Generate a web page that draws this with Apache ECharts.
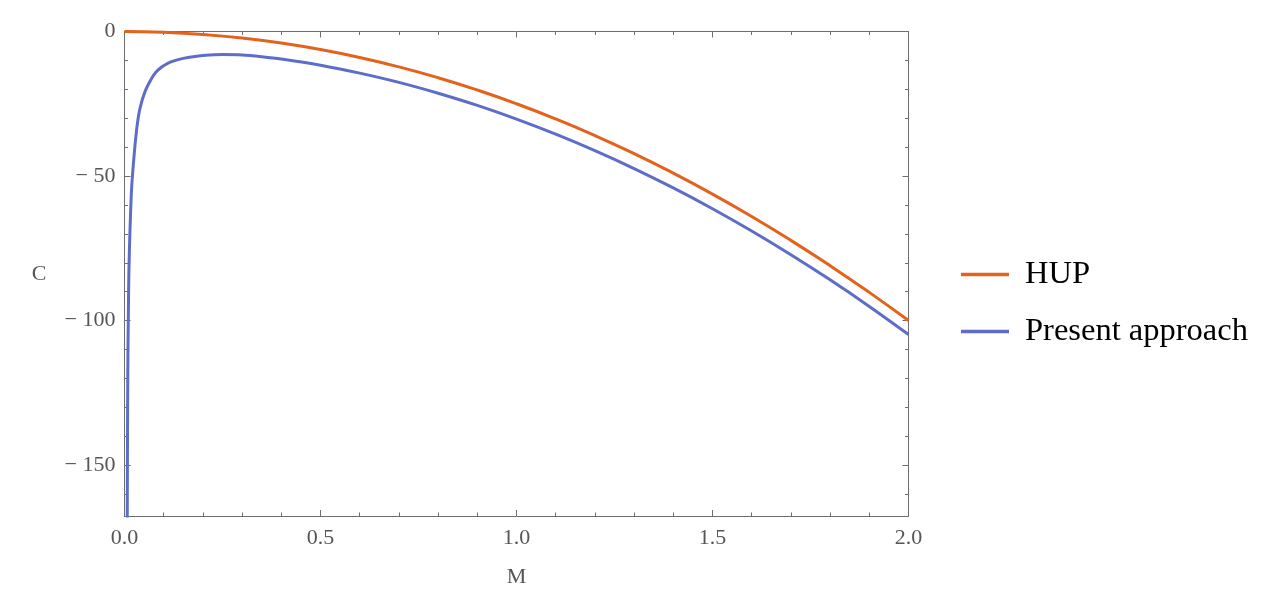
<!DOCTYPE html>
<html>
<head>
<meta charset="utf-8">
<script src="https://cdn.jsdelivr.net/npm/echarts@6/dist/echarts.min.js"></script>
<style>html,body{margin:0;padding:0;background:#fff}#c{width:1275px;height:598px}</style>
</head>
<body>
<div id="c"></div>
<script>
// Data
const seriesNames = ['HUP', 'Present approach'];
const hupM = [0, 0.1, 0.2, 0.3, 0.4, 0.5, 0.6, 0.7, 0.8, 0.9, 1.0, 1.1, 1.2, 1.3, 1.4, 1.5, 1.6, 1.7, 1.8, 1.9, 2.0];
const hupC = [0, -0.25, -1, -2.25, -4, -6.25, -9, -12.25, -16, -20.25, -25, -30.25, -36, -42.25, -49, -56.25, -64, -72.25, -81, -90.25, -100];
const presM = [0.0068, 0.0072, 0.0080, 0.0090, 0.0098, 0.0106, 0.0123, 0.0149, 0.0184, 0.025, 0.0318, 0.0395, 0.0523, 0.0694, 0.08, 0.095, 0.11, 0.13, 0.15, 0.175, 0.2, 0.25, 0.3, 0.35, 0.4, 0.5, 0.6, 0.7, 0.8, 0.9, 1.0, 1.1, 1.2, 1.3, 1.4, 1.5, 1.6, 1.7, 1.8, 1.9, 2.0];
const presC = [-175, -160, -128, -108, -98.7, -88.3, -76.7, -65.2, -53.7, -42.1, -33.0, -26.6, -20.8, -16.2, -14.1, -12.3, -11.0, -10.0, -9.3, -8.7, -8.3, -7.95, -8.1, -8.7, -9.5, -11.65, -14.4, -17.6, -21.35, -25.55, -30.3, -35.5, -41.2, -47.4, -54.1, -61.3, -69.0, -77.2, -85.9, -95.1, -104.8];
const xMin = 0, xMax = 2, xStep = 0.5;
const yMin = -167.6, yMax = 0;
const yMajorTicks = [0, -50, -100, -150];
const yMinorTicks = [-10, -20, -30, -40, -60, -70, -80, -90, -110, -120, -130, -140, -160];
const yTickLabels = ['0', '\u2212 50', '\u2212 100', '\u2212 150'];

const FONT = 'Liberation Serif';
const FRAME = '#6e6e6e';
const TXT = '#555555';
const colors = ['#E3621C', '#5D6DC8'];

const chart = echarts.init(document.getElementById('c'));
const pair = (xs, ys) => xs.map((x, i) => [x, ys[i]]);

const baseX = {
  type: 'value', min: xMin, max: xMax, interval: xStep,
  axisLine: { show: true, onZero: false, lineStyle: { color: FRAME, width: 1 } },
  axisTick: { show: true, inside: true, length: 6, lineStyle: { color: FRAME } },
  minorTick: { show: true, splitNumber: 5, length: 3.5, lineStyle: { color: FRAME } },
  splitLine: { show: false }, minorSplitLine: { show: false }
};
const baseY = {
  type: 'value', min: yMin, max: yMax,
  axisLine: { show: true, onZero: false, lineStyle: { color: FRAME, width: 1 } },
  splitLine: { show: false }
};

chart.setOption({
  animation: false,
  backgroundColor: '#ffffff',
  grid: { left: 124.5, right: 366.5, top: 31.5, bottom: 82, containLabel: false },
  legend: {
    orient: 'vertical', left: 961, top: 258, padding: 0,
    itemWidth: 48, itemHeight: 3.5, itemGap: 24,
    icon: 'rect',
    data: seriesNames,
    textStyle: { fontFamily: FONT, fontSize: 32.5, color: '#000', padding: [0, 0, 0, 11] }
  },
  xAxis: [
    Object.assign({}, baseX, {
      position: 'bottom',
      name: 'M', nameLocation: 'middle', nameGap: 50,
      nameTextStyle: { fontFamily: FONT, fontSize: 22, color: TXT },
      axisLabel: { show: true, margin: 11, fontFamily: FONT, fontSize: 22, color: TXT,
        formatter: v => v.toFixed(1) }
    }),
    Object.assign({}, baseX, { position: 'top', axisLabel: { show: false } })
  ],
  yAxis: [
    Object.assign({}, baseY, {
      position: 'left',
      name: 'C', nameLocation: 'middle', nameGap: 78, nameRotate: 0,
      nameTextStyle: { fontFamily: FONT, fontSize: 22, color: TXT },
      axisTick: { show: true, inside: true, length: 6, customValues: yMajorTicks, lineStyle: { color: FRAME } },
      axisLabel: { show: true, margin: 9, fontFamily: FONT, fontSize: 22, color: TXT,
        customValues: yMajorTicks,
        formatter: v => yTickLabels[yMajorTicks.indexOf(Math.round(v))] }
    }),
    Object.assign({}, baseY, {
      position: 'left',
      axisTick: { show: true, inside: true, length: 3.5, customValues: yMinorTicks, lineStyle: { color: FRAME } },
      axisLabel: { show: false }
    }),
    Object.assign({}, baseY, {
      position: 'right',
      axisTick: { show: true, inside: true, length: 6, customValues: yMajorTicks, lineStyle: { color: FRAME } },
      axisLabel: { show: false }
    }),
    Object.assign({}, baseY, {
      position: 'right',
      axisTick: { show: true, inside: true, length: 3.5, customValues: yMinorTicks, lineStyle: { color: FRAME } },
      axisLabel: { show: false }
    })
  ],
  series: [
    {
      name: seriesNames[0], type: 'line', xAxisIndex: 0, yAxisIndex: 0,
      data: pair(hupM, hupC), showSymbol: false, symbol: 'none', smooth: true,
      lineStyle: { color: colors[0], width: 3 }, itemStyle: { color: colors[0] }, clip: true
    },
    {
      name: seriesNames[1], type: 'line', xAxisIndex: 0, yAxisIndex: 0,
      data: pair(presM, presC), showSymbol: false, symbol: 'none', smooth: 0.3,
      lineStyle: { color: colors[1], width: 3 }, itemStyle: { color: colors[1] }, clip: true
    }
  ]
});
</script>
</body>
</html>
